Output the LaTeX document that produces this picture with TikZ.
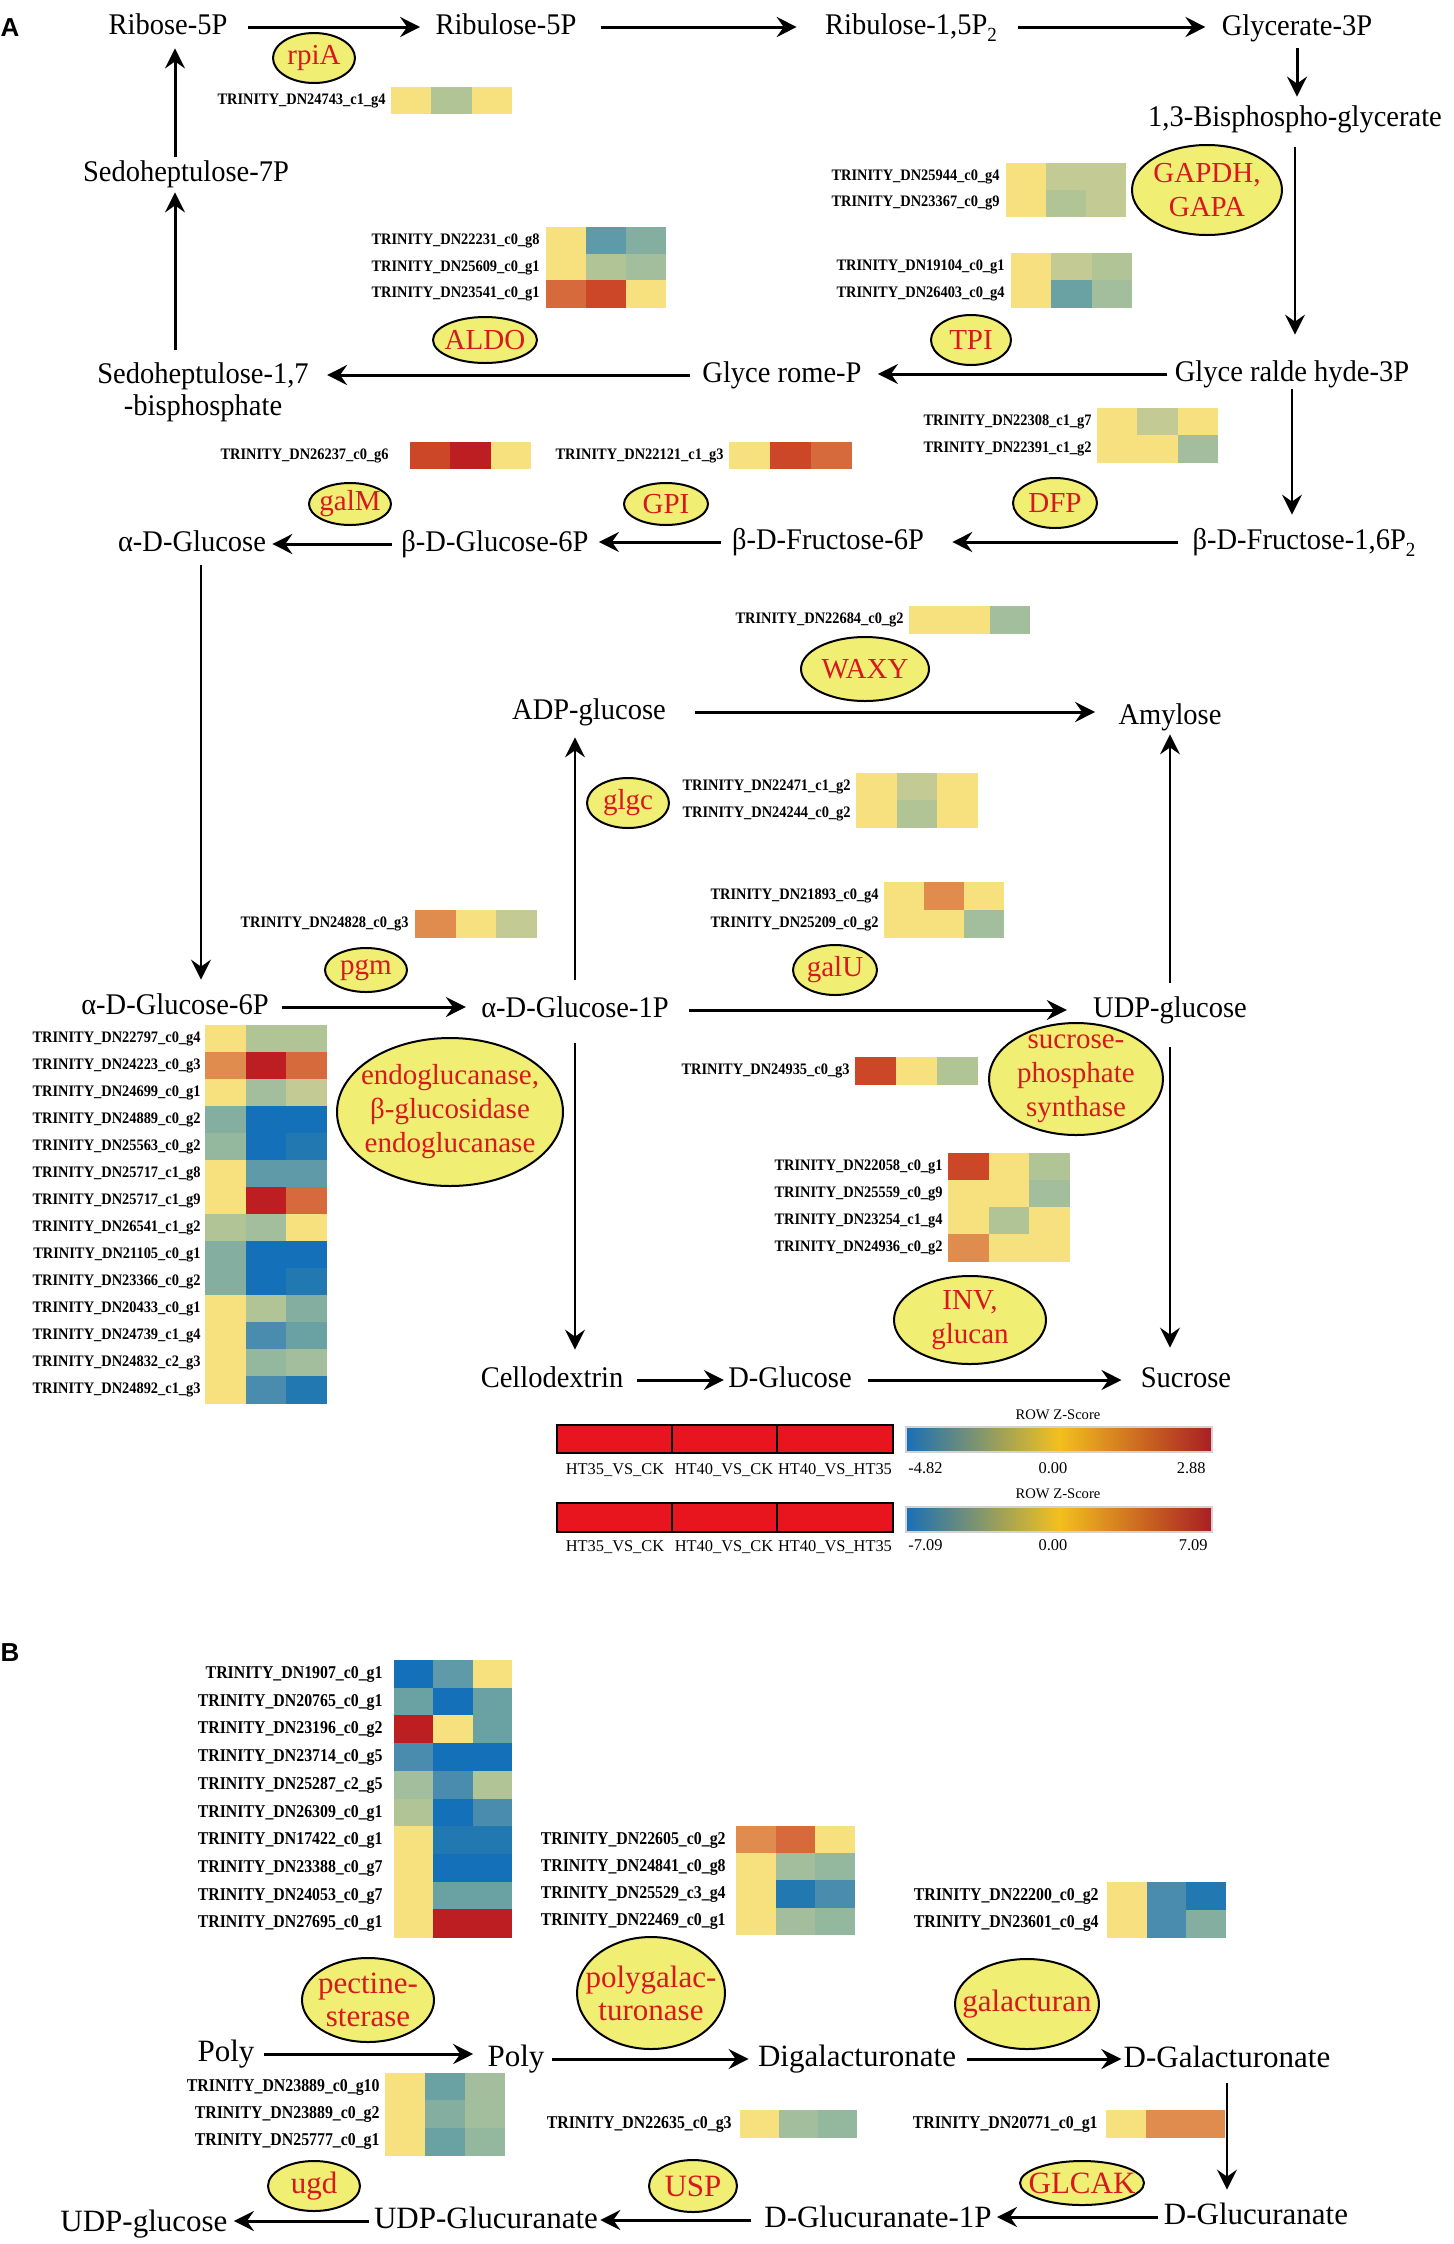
\documentclass[tikz,border=0pt]{standalone}
\usepackage{fontspec}
\setmainfont{Liberation Serif}
\setsansfont{Liberation Sans}
\newfontfamily\metfamily{Liberation Serif}[FakeStretch=0.95]
\newfontfamily\genefamily{Liberation Serif}[FakeStretch=0.9]
\newfontfamily\genebfamily{Liberation Serif}[FakeStretch=0.88]
\usepackage{xcolor}
\usetikzlibrary{shapes.geometric,arrows.meta}

% heatmap colours
\definecolor{hy}{HTML}{F7E17F}
\definecolor{gA}{HTML}{C4CA94}
\definecolor{gB}{HTML}{B0C496}
\definecolor{gC}{HTML}{A2BE9C}
\definecolor{gD}{HTML}{94B89E}
\definecolor{tA}{HTML}{84AEA0}
\definecolor{tB}{HTML}{6AA2A4}
\definecolor{tC}{HTML}{5E9AA8}
\definecolor{bA}{HTML}{4A8CAE}
\definecolor{bB}{HTML}{2279B2}
\definecolor{bC}{HTML}{1470B8}
\definecolor{oA}{HTML}{E08C4E}
\definecolor{oB}{HTML}{D66A3C}
\definecolor{rA}{HTML}{CC4628}
\definecolor{rB}{HTML}{BC1E22}
% pathway and legend colours
\definecolor{enzred}{HTML}{D7191F}
\definecolor{enzfill}{HTML}{F1EE74}
\definecolor{legred}{HTML}{E8151F}
\definecolor{cbblue}{HTML}{1A6FB5}
\definecolor{cbyellow}{HTML}{F2C01E}
\definecolor{cbred}{HTML}{A91D24}

% one heatmap: style, name, label x, cell x, top y, cell width, cell height, rows
\newcommand{\heat}[8]{%
  \foreach \g/\ca/\cb/\cc [count=\i from 0] in {#8}{%
    \node[#1, anchor=east] (#2\i) at (#3,{#5+#7*(\i+0.5)}) {TRINITY\_\g};
    \fill[\ca] (#4,{#5+#7*\i}) rectangle ++(#6+0.6,#7+0.6);
    \fill[\cb] ({#4+#6},{#5+#7*\i}) rectangle ++(#6+0.6,#7+0.6);
    \fill[\cc] ({#4+2*#6},{#5+#7*\i}) rectangle ++(#6,#7+0.6);
  }}

\begin{document}
\begin{tikzpicture}[x=0.5pt, y=-0.5pt,
  met/.style={inner sep=0pt, text height=11pt, text depth=3.5pt, font=\metfamily\fontsize{15}{16}\selectfont},
  metB/.style={inner sep=0pt, text height=11pt, text depth=3.5pt, font=\fontsize{15.5}{16}\selectfont},
  enz/.style={ellipse, draw=black, line width=1pt, fill=enzfill, inner sep=0pt},
  enzt/.style={inner sep=0pt, text=enzred, align=center, font=\fontsize{14.5}{17}\selectfont},
  enztB/.style={enzt, font=\fontsize{15.5}{16.5}\selectfont},
  geneA/.style={inner sep=0pt, text height=5.8pt, text depth=1.6pt, font=\genefamily\bfseries\fontsize{8}{9}\selectfont},
  geneB/.style={inner sep=0pt, text height=6.5pt, text depth=1.8pt, font=\genebfamily\bfseries\fontsize{9}{10}\selectfont},
  arr/.style={-{Stealth[length=10pt,width=10pt,inset=3.5pt]}, line width=1.5pt},
  arrthin/.style={arr, line width=1.1pt},
  leg/.style={inner sep=0pt, font=\fontsize{8.2}{9}\selectfont},
  legsm/.style={inner sep=0pt, font=\fontsize{7.3}{8}\selectfont}]
\useasboundingbox (0,0) rectangle (1454,2244);

% ---------- panel A ----------
\node[inner sep=0pt, font=\sffamily\bfseries\fontsize{13}{13}\selectfont] (labA) at (10,28) {A};

\node[met] (rib5) at (168,27) {Ribose-5P};
\node[met] (rbl5) at (506,27) {Ribulose-5P};
\node[met] (rbl15) at (911,27) {Ribulose-1,5P\raisebox{-3.5pt}{\fontsize{10}{10}\selectfont 2}};
\node[met] (gly3) at (1297,28) {Glycerate-3P};
\node[met] (bpg) at (1295,119) {1,3-Bisphospho-glycerate};
\node[met] (gap3) at (1292,374) {Glyce ralde hyde-3P};
\node[met] (glyp) at (782,375) {Glyce rome-P};
\node[inner sep=0pt, align=center, font=\metfamily\fontsize{15}{16}\selectfont] (sedo17) at (203,392) {Sedoheptulose-1,7\\-bisphosphate};
\node[met] (sedo7) at (186,174) {Sedoheptulose-7P};
\node[met] (glc) at (192,544) {α-D-Glucose};
\node[met] (bg6p) at (495,544) {β-D-Glucose-6P};
\node[met] (bf6p) at (828,542) {β-D-Fructose-6P};
\node[met] (bf16) at (1304,542) {β-D-Fructose-1,6P\raisebox{-3.5pt}{\fontsize{10}{10}\selectfont 2}};
\node[met] (ag6p) at (175,1007) {α-D-Glucose-6P};
\node[met] (ag1p) at (575,1010) {α-D-Glucose-1P};
\node[met] (adpg) at (589,712) {ADP-glucose};
\node[met] (amyl) at (1170,717) {Amylose};
\node[met] (udpg) at (1170,1010) {UDP-glucose};
\node[met] (cello) at (552,1380) {Cellodextrin};
\node[met] (dglc) at (790,1380) {D-Glucose};
\node[met] (sucr) at (1186,1380) {Sucrose};

\draw[arr, shorten <=10pt, shorten >=7.5pt] (rib5.east) -- (rib5.east -| rbl5.west);
\draw[arr, shorten <=12pt, shorten >=14pt] (rbl5.east) -- (rbl5.east -| rbl15.west);
\draw[arr, shorten <=10.5pt, shorten >=8pt] (rbl15.east) -- (rbl15.east -| gly3.west);
\draw[arr, shorten <=2.75pt, shorten >=3.75pt] (gly3.south) -- (gly3.south |- bpg.north);
\draw[arrthin, shorten <=6.75pt, shorten >=12.25pt] (bpg.south) -- (bpg.south |- gap3.north);
\draw[arr, shorten <=3.5pt, shorten >=8pt] (gap3.west) -- (gap3.west -| glyp.east);
\draw[arr, shorten <=6pt, shorten >=9pt] (glyp.west) -- (glyp.west -| sedo17.east);
\draw[arr, shorten <=6pt, shorten >=1.75pt] ([xshift=-5.5pt]sedo7.south |- sedo17.north) -- ([xshift=-5.5pt]sedo7.south);
\draw[arr, shorten <=1.25pt, shorten >=3.25pt] ([xshift=-5.5pt]sedo7.north) -- ([xshift=-5.5pt]sedo7.north |- rib5.south);
\draw[arrthin, shorten >=6.25pt] (gap3.south) -- (gap3.south |- bf16.north);
\draw[arr, shorten <=7pt, shorten >=14pt] (bf16.west) -- (bf16.west -| bf6p.east);
\draw[arr, shorten <=5.5pt, shorten >=5pt] (bf6p.west) -- (bf6p.west -| bg6p.east);
\draw[arr, shorten <=4.5pt, shorten >=3pt] (bg6p.west) -- (bg6p.west -| glc.east);
\draw[arrthin, shorten <=3.25pt, shorten >=6.25pt] ([xshift=4.5pt]glc.south) -- ([xshift=4.5pt]glc.south |- ag6p.north);
\draw[arr, shorten <=6.5pt, shorten >=7.5pt] (ag6p.east) -- (ag6p.east -| ag1p.west);
\draw[arrthin, shorten <=7.75pt, shorten >=5.25pt] (ag1p.north) -- (ag1p.north |- adpg.south);
\draw[arr, shorten <=14.5pt, shorten >=11.5pt] (adpg.east) -- (adpg.east -| amyl.west);
\draw[arr, shorten <=10pt, shorten >=13pt] (ag1p.east) -- (ag1p.east -| udpg.west);
\draw[arrthin, shorten <=6.25pt, shorten >=1.25pt] (udpg.north) -- (amyl.south);
\draw[arrthin, shorten <=9.25pt, shorten >=7.75pt] (ag1p.south) -- (ag1p.south |- cello.north);
\draw[arrthin, shorten <=11.25pt, shorten >=8.75pt] (udpg.south) -- (udpg.south |- sucr.north);
\draw[arr, shorten <=6.5pt, shorten >=2pt] (cello.east) -- (cello.east -| dglc.west);
\draw[arr, shorten <=8pt, shorten >=9.5pt] (dglc.east) -- (dglc.east -| sucr.west);

% enzymes
\node[enz, minimum width=41pt, minimum height=25pt, label={[enzt]center:rpiA}] (rpia) at (314,58) {};
\node[enz, minimum width=75pt, minimum height=45pt, label={[enzt]center:{GAPDH,\\GAPA}}] (gapdh) at (1207,190) {};
\node[enz, minimum width=52pt, minimum height=23pt, label={[enzt]center:ALDO}] (aldo) at (485,340) {};
\node[enz, minimum width=40pt, minimum height=25pt, label={[enzt]center:TPI}] (tpi) at (971,340) {};
\node[enz, minimum width=41pt, minimum height=21pt, label={[enzt]center:galM}] (galm) at (350,504) {};
\node[enz, minimum width=42pt, minimum height=21pt, label={[enzt]center:GPI}] (gpi) at (666,504) {};
\node[enz, minimum width=42pt, minimum height=25pt, label={[enzt]center:DFP}] (dfp) at (1055,503) {};
\node[enz, minimum width=64pt, minimum height=32pt, label={[enzt]center:WAXY}] (waxy) at (865,669) {};
\node[enz, minimum width=41pt, minimum height=25pt, label={[enzt]center:glgc}] (glgc) at (628,803) {};
\node[enz, minimum width=42pt, minimum height=25pt, label={[enzt]center:galU}] (galu) at (835,970) {};
\node[enz, minimum width=41pt, minimum height=22pt, label={[enzt]center:pgm}] (pgm) at (366,970) {};
\node[enz, minimum width=113pt, minimum height=74pt, label={[enzt]center:{endoglucanase,\\β-glucosidase\\endoglucanase}}] (endo) at (450,1112) {};
\node[enz, minimum width=87pt, minimum height=56pt, label={[enzt]center:{sucrose-\\phosphate\\synthase}}] (sps) at (1076,1079) {};
\node[enz, minimum width=76pt, minimum height=44pt, label={[enzt]center:{INV,\\glucan}}] (inv) at (970,1320) {};

% heatmaps
\heat{geneA}{hr}{386}{391}{87}{40.3}{26}{DN24743\_c1\_g4/hy/gB/hy}
\heat{geneA}{ha}{540}{546}{227}{40}{26.7}{DN22231\_c0\_g8/hy/tC/tA, DN25609\_c0\_g1/hy/gB/gC, DN23541\_c0\_g1/oB/rA/hy}
\heat{geneA}{hg}{1000}{1006}{163}{40}{26.5}{DN25944\_c0\_g4/hy/gA/gA, DN23367\_c0\_g9/hy/gB/gA}
\heat{geneA}{ht}{1005}{1011}{253}{40.3}{27}{DN19104\_c0\_g1/hy/gA/gB, DN26403\_c0\_g4/hy/tB/gC}
\heat{geneA}{hm}{389}{410}{442}{40.3}{26}{DN26237\_c0\_g6/rA/rB/hy}
\heat{geneA}{hp}{724}{729}{442}{41}{26}{DN22121\_c1\_g3/hy/rA/oB}
\heat{geneA}{hd}{1092}{1097}{408}{40.3}{27}{DN22308\_c1\_g7/hy/gA/hy, DN22391\_c1\_g2/hy/hy/gC}
\heat{geneA}{hw}{904}{909}{606}{40.3}{27}{DN22684\_c0\_g2/hy/hy/gC}
\heat{geneA}{hc}{851}{856}{773}{40.7}{27}{DN22471\_c1\_g2/hy/gA/hy, DN24244\_c0\_g2/hy/gB/hy}
\heat{geneA}{hu}{879}{884}{882}{40}{27.5}{DN21893\_c0\_g4/hy/oA/hy, DN25209\_c0\_g2/hy/hy/gC}
\heat{geneA}{hn}{409}{415}{910}{40.7}{27}{DN24828\_c0\_g3/oA/hy/gA}
\heat{geneA}{he}{201}{205}{1025}{40.7}{27}{DN22797\_c0\_g4/hy/gB/gB, DN24223\_c0\_g3/oA/rB/oB, DN24699\_c0\_g1/hy/gC/gA, DN24889\_c0\_g2/tA/bC/bC, DN25563\_c0\_g2/gD/bC/bB, DN25717\_c1\_g8/hy/tC/tC, DN25717\_c1\_g9/hy/rB/oB, DN26541\_c1\_g2/gB/gC/hy, DN21105\_c0\_g1/tA/bC/bC, DN23366\_c0\_g2/tA/bC/bB, DN20433\_c0\_g1/hy/gB/tA, DN24739\_c1\_g4/hy/bA/tB, DN24832\_c2\_g3/hy/gD/gC, DN24892\_c1\_g3/hy/bA/bB}
\heat{geneA}{hs}{850}{855}{1057}{41}{27}{DN24935\_c0\_g3/rA/hy/gB}
\heat{geneA}{hi}{943}{948}{1153}{40.7}{27}{DN22058\_c0\_g1/rA/hy/gB, DN25559\_c0\_g9/hy/hy/gC, DN23254\_c1\_g4/hy/gB/hy, DN24936\_c0\_g2/oA/hy/hy}

% legend
\foreach \xa/\xb in {557/672, 672/777, 777/893} {
  \draw[line width=1pt, fill=legred] (\xa,1425) rectangle (\xb,1453);
  \draw[line width=1pt, fill=legred] (\xa,1503) rectangle (\xb,1532);
}
\node[leg] (ca1) at (615,1470) {HT35\_VS\_CK};
\node[leg] (ca2) at (724,1470) {HT40\_VS\_CK};
\node[leg] (ca3) at (835,1470) {HT40\_VS\_HT35};
\node[leg] (cb1) at (615,1547) {HT35\_VS\_CK};
\node[leg] (cb2) at (724,1547) {HT40\_VS\_CK};
\node[leg] (cb3) at (835,1547) {HT40\_VS\_HT35};

\shade[left color=cbblue, right color=cbred, middle color=cbyellow] (906,1427) rectangle (1212,1452);
\draw[gray!35, line width=0.6pt] (906,1427) rectangle (1212,1452);
\shade[left color=cbblue, right color=cbred, middle color=cbyellow] (906,1507) rectangle (1212,1532);
\draw[gray!35, line width=0.6pt] (906,1507) rectangle (1212,1532);
\node[legsm] (za) at (1058,1415) {ROW Z-Score};
\node[legsm] (zb) at (1058,1494) {ROW Z-Score};
\node[leg, anchor=west] (za1) at (908,1468) {-4.82};
\node[leg] (za2) at (1053,1468) {0.00};
\node[leg, anchor=east] (za3) at (1206,1468) {2.88};
\node[leg, anchor=west] (zb1) at (908,1545) {-7.09};
\node[leg] (zb2) at (1053,1545) {0.00};
\node[leg, anchor=east] (zb3) at (1208,1545) {7.09};

% ---------- panel B ----------
\node[inner sep=0pt, font=\sffamily\bfseries\fontsize{13}{13}\selectfont] (labB) at (10,1653) {B};

\node[metB] (poly1) at (226,2054) {Poly};
\node[metB] (poly2) at (516,2059) {Poly};
\node[metB] (digal) at (857,2059) {Digalacturonate};
\node[metB] (dgala) at (1227,2060) {D-Galacturonate};
\node[metB] (dglcu) at (1256,2217) {D-Glucuranate};
\node[metB] (dg1p) at (878,2220) {D-Glucuranate-1P};
\node[metB] (udpgu) at (486,2221) {UDP-Glucuranate};
\node[metB] (udpgb) at (144,2224) {UDP-glucose};

\draw[arr, shorten <=4.5pt, shorten >=7pt] (poly1.east) -- (poly1.east -| poly2.west);
\draw[arr, shorten <=3.5pt, shorten >=4.5pt] (poly2.east) -- (poly2.east -| digal.west);
\draw[arr, shorten <=5.5pt, shorten >=1pt] (digal.east) -- (digal.east -| dgala.west);
\draw[arrthin, shorten <=4.25pt, shorten >=6.25pt] (dgala.south) -- (dgala.south |- dglcu.north);
\draw[arr, shorten <=3pt, shorten >=2.5pt] (dglcu.west) -- (dglcu.west -| dg1p.east);
\draw[arr, shorten <=6.5pt, shorten >=1pt] (dg1p.west) -- (dg1p.west -| udpgu.east);
\draw[arr, shorten <=2.5pt, shorten >=3pt] (udpgu.west) -- (udpgu.west -| udpgb.east);

\node[enz, minimum width=66pt, minimum height=42pt, label={[enztB]center:{pectine-\\sterase}}] (pect) at (368,2000) {};
\node[enz, minimum width=74pt, minimum height=56pt, label={[enztB]center:{polygalac-\\turonase}}] (pgal) at (651,1993) {};
\node[enz, minimum width=72pt, minimum height=45pt, label={[enztB]center:galacturan}] (galac) at (1027,2004) {};
\node[enz, minimum width=62pt, minimum height=22pt, label={[enztB]center:GLCAK}] (glcak) at (1082,2183) {};
\node[enz, minimum width=44pt, minimum height=26pt, label={[enztB]center:USP}] (usp) at (693,2186) {};
\node[enz, minimum width=46pt, minimum height=25pt, label={[enztB]center:ugd}] (ugd) at (314,2186) {};

\heat{geneB}{hb}{383}{394}{1660}{39.3}{27.7}{DN1907\_c0\_g1/bC/tC/hy, DN20765\_c0\_g1/tB/bC/tB, DN23196\_c0\_g2/rB/hy/tB, DN23714\_c0\_g5/bA/bC/bC, DN25287\_c2\_g5/gC/bA/gB, DN26309\_c0\_g1/gB/bC/bA, DN17422\_c0\_g1/hy/bB/bB, DN23388\_c0\_g7/hy/bC/bC, DN24053\_c0\_g7/hy/tB/tB, DN27695\_c0\_g1/hy/rB/rB}
\heat{geneB}{hq}{726}{736}{1826}{39.7}{27.2}{DN22605\_c0\_g2/oA/oB/hy, DN24841\_c0\_g8/hy/gC/gD, DN25529\_c3\_g4/hy/bB/bA, DN22469\_c0\_g1/hy/gC/gD}
\heat{geneB}{hk}{1099}{1107}{1882}{39.7}{27.5}{DN22200\_c0\_g2/hy/bA/bB, DN23601\_c0\_g4/hy/bA/tA}
\heat{geneB}{hx}{380}{385}{2073}{40}{27.3}{DN23889\_c0\_g10/hy/tB/gC, DN23889\_c0\_g2/hy/tA/gC, DN25777\_c0\_g1/hy/tB/gD}
\heat{geneB}{hv}{732}{740}{2110}{39}{27}{DN22635\_c0\_g3/hy/gC/gD}
\heat{geneB}{hz}{1098}{1106}{2110}{39.7}{27}{DN20771\_c0\_g1/hy/oA/oA}
\end{tikzpicture}
\end{document}
